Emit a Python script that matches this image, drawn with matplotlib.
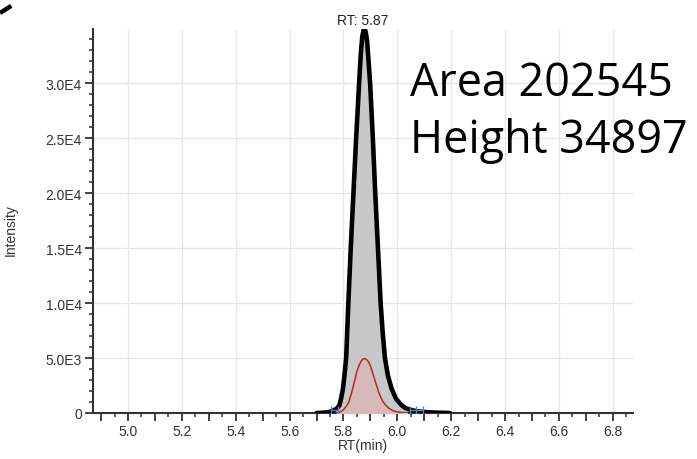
import matplotlib
matplotlib.use("Agg")
import matplotlib.pyplot as plt
from matplotlib.ticker import MultipleLocator, FuncFormatter
from matplotlib.lines import Line2D
import numpy as np

# chromatogram (black trace)
rt = [5.700, 5.740, 5.760, 5.775, 5.785, 5.791, 5.798, 5.804, 5.810, 5.818,
      5.827, 5.837, 5.847, 5.858, 5.864, 5.870, 5.875, 5.878, 5.882, 5.887,
      5.892, 5.899, 5.909, 5.918, 5.928, 5.938, 5.946, 5.954, 5.965, 5.979,
      5.995, 6.016, 6.030, 6.047, 6.070, 6.096, 6.120, 6.150, 6.195]
intensity = [0, 50, 200, 400, 700, 1300, 2200, 3500, 5000, 10000,
             15000, 20000, 25000, 30000, 32600, 34300, 34850, 34897, 34750, 34000,
             32400, 30000, 25000, 20000, 15000, 10000, 7200, 5000, 3400, 2200,
             1300, 700, 450, 300, 170, 100, 60, 30, 0]

# fitted component (red trace)
rt_fit = [5.775, 5.790, 5.800, 5.810, 5.820, 5.828, 5.837, 5.844, 5.850, 5.858,
          5.865, 5.872, 5.878, 5.885, 5.892, 5.899, 5.905, 5.914, 5.923, 5.933,
          5.945, 5.957, 5.970, 5.985, 6.000, 6.035]
int_fit = [0, 120, 300, 600, 1000, 1650, 2500, 3200, 3800, 4350,
           4700, 4900, 4950, 4880, 4700, 4350, 3900, 3200, 2500, 1750,
           1100, 700, 400, 200, 100, 0]

# integration boundaries (blue marks)
left_bound = [5.752, 5.780]
right_bound = [6.047, 6.070, 6.096]

apex_rt = 5.87
area = 202545
height = 34897

fig = plt.figure(figsize=(6.97, 4.60), dpi=100)
ax = fig.add_axes([93/697, 1 - 414/460, (633 - 93)/697, (414 - 30)/460])

ax.fill_between(rt, intensity, color="#c8c8c8", zorder=2)
ax.fill_between(rt_fit, int_fit, color="#d8b9b9", zorder=3)
ax.plot(rt_fit, int_fit, color="#b22a2a", lw=1.1, zorder=4)
ax.plot(rt, intensity, color="black", lw=3.3, solid_joinstyle="round",
        solid_capstyle="round", zorder=5)

for b in [left_bound, right_bound]:
    ax.plot(b, [250] * len(b), color="#4a86c8", lw=1, marker="|", ms=6, zorder=6)

ax.set_xlim(4.87, 6.875)
ax.set_ylim(0, 34950)

# grid
for xv in np.arange(5.0, 6.81, 0.2):
    ax.axvline(xv, color="#e6e6e6", lw=1, zorder=0)
for yv in np.arange(5000, 34000, 5000):
    ax.axhline(yv, color="#e6e6e6", lw=1, zorder=0)

ax.xaxis.set_major_locator(MultipleLocator(0.1))
ax.xaxis.set_minor_locator(MultipleLocator(0.05))
ax.xaxis.set_major_formatter(FuncFormatter(
    lambda v, p: f"{v:.1f}" if round(v * 10) % 2 == 0 else ""))
ax.yaxis.set_major_locator(MultipleLocator(5000))
ax.yaxis.set_minor_locator(MultipleLocator(1000))


def yfmt(v, p):
    if v <= 0:
        return "0" if v == 0 else ""
    e = int(np.floor(np.log10(v)))
    return f"{v / 10**e:.1f}E{e}"


ax.yaxis.set_major_formatter(FuncFormatter(yfmt))

for s in ["top", "right"]:
    ax.spines[s].set_visible(False)
for s in ["left", "bottom"]:
    ax.spines[s].set_color("#333333")
    ax.spines[s].set_linewidth(1.5)

small = 10
ax.tick_params(which="major", length=6, width=1.3, color="#333333",
               labelsize=small, labelcolor="#333333", pad=2)
ax.tick_params(which="minor", length=3, width=1.1, color="#333333")
for lab in ax.get_xticklabels() + ax.get_yticklabels():
    lab.set_fontfamily("Liberation Sans")

ax.set_xlabel("RT(min)", fontsize=small, color="#333333", family="Liberation Sans", labelpad=0)
ax.set_ylabel("Intensity", fontsize=small, color="#333333", family="Liberation Sans")
ax.yaxis.set_label_coords(-0.139, 0.48)

ax.text(apex_rt, 35150, f"RT: {apex_rt:.2f}", ha="center", va="bottom", fontsize=small,
        color="#222222", family="Liberation Sans", clip_on=False)

fig.text(410/697, 1 - 153/460, f"Area {area}\nHeight {height}", ha="left", va="baseline",
         fontsize=32.3, family="Open Sans", color="black", linespacing=1.31)

# corner mark
fig.add_artist(Line2D([0, 22/697], [1 - 14/460, 1], color="black", lw=3.2,
                      ls=(0, (3, 3)), transform=fig.transFigure))

fig.savefig("out.png", dpi=100)
